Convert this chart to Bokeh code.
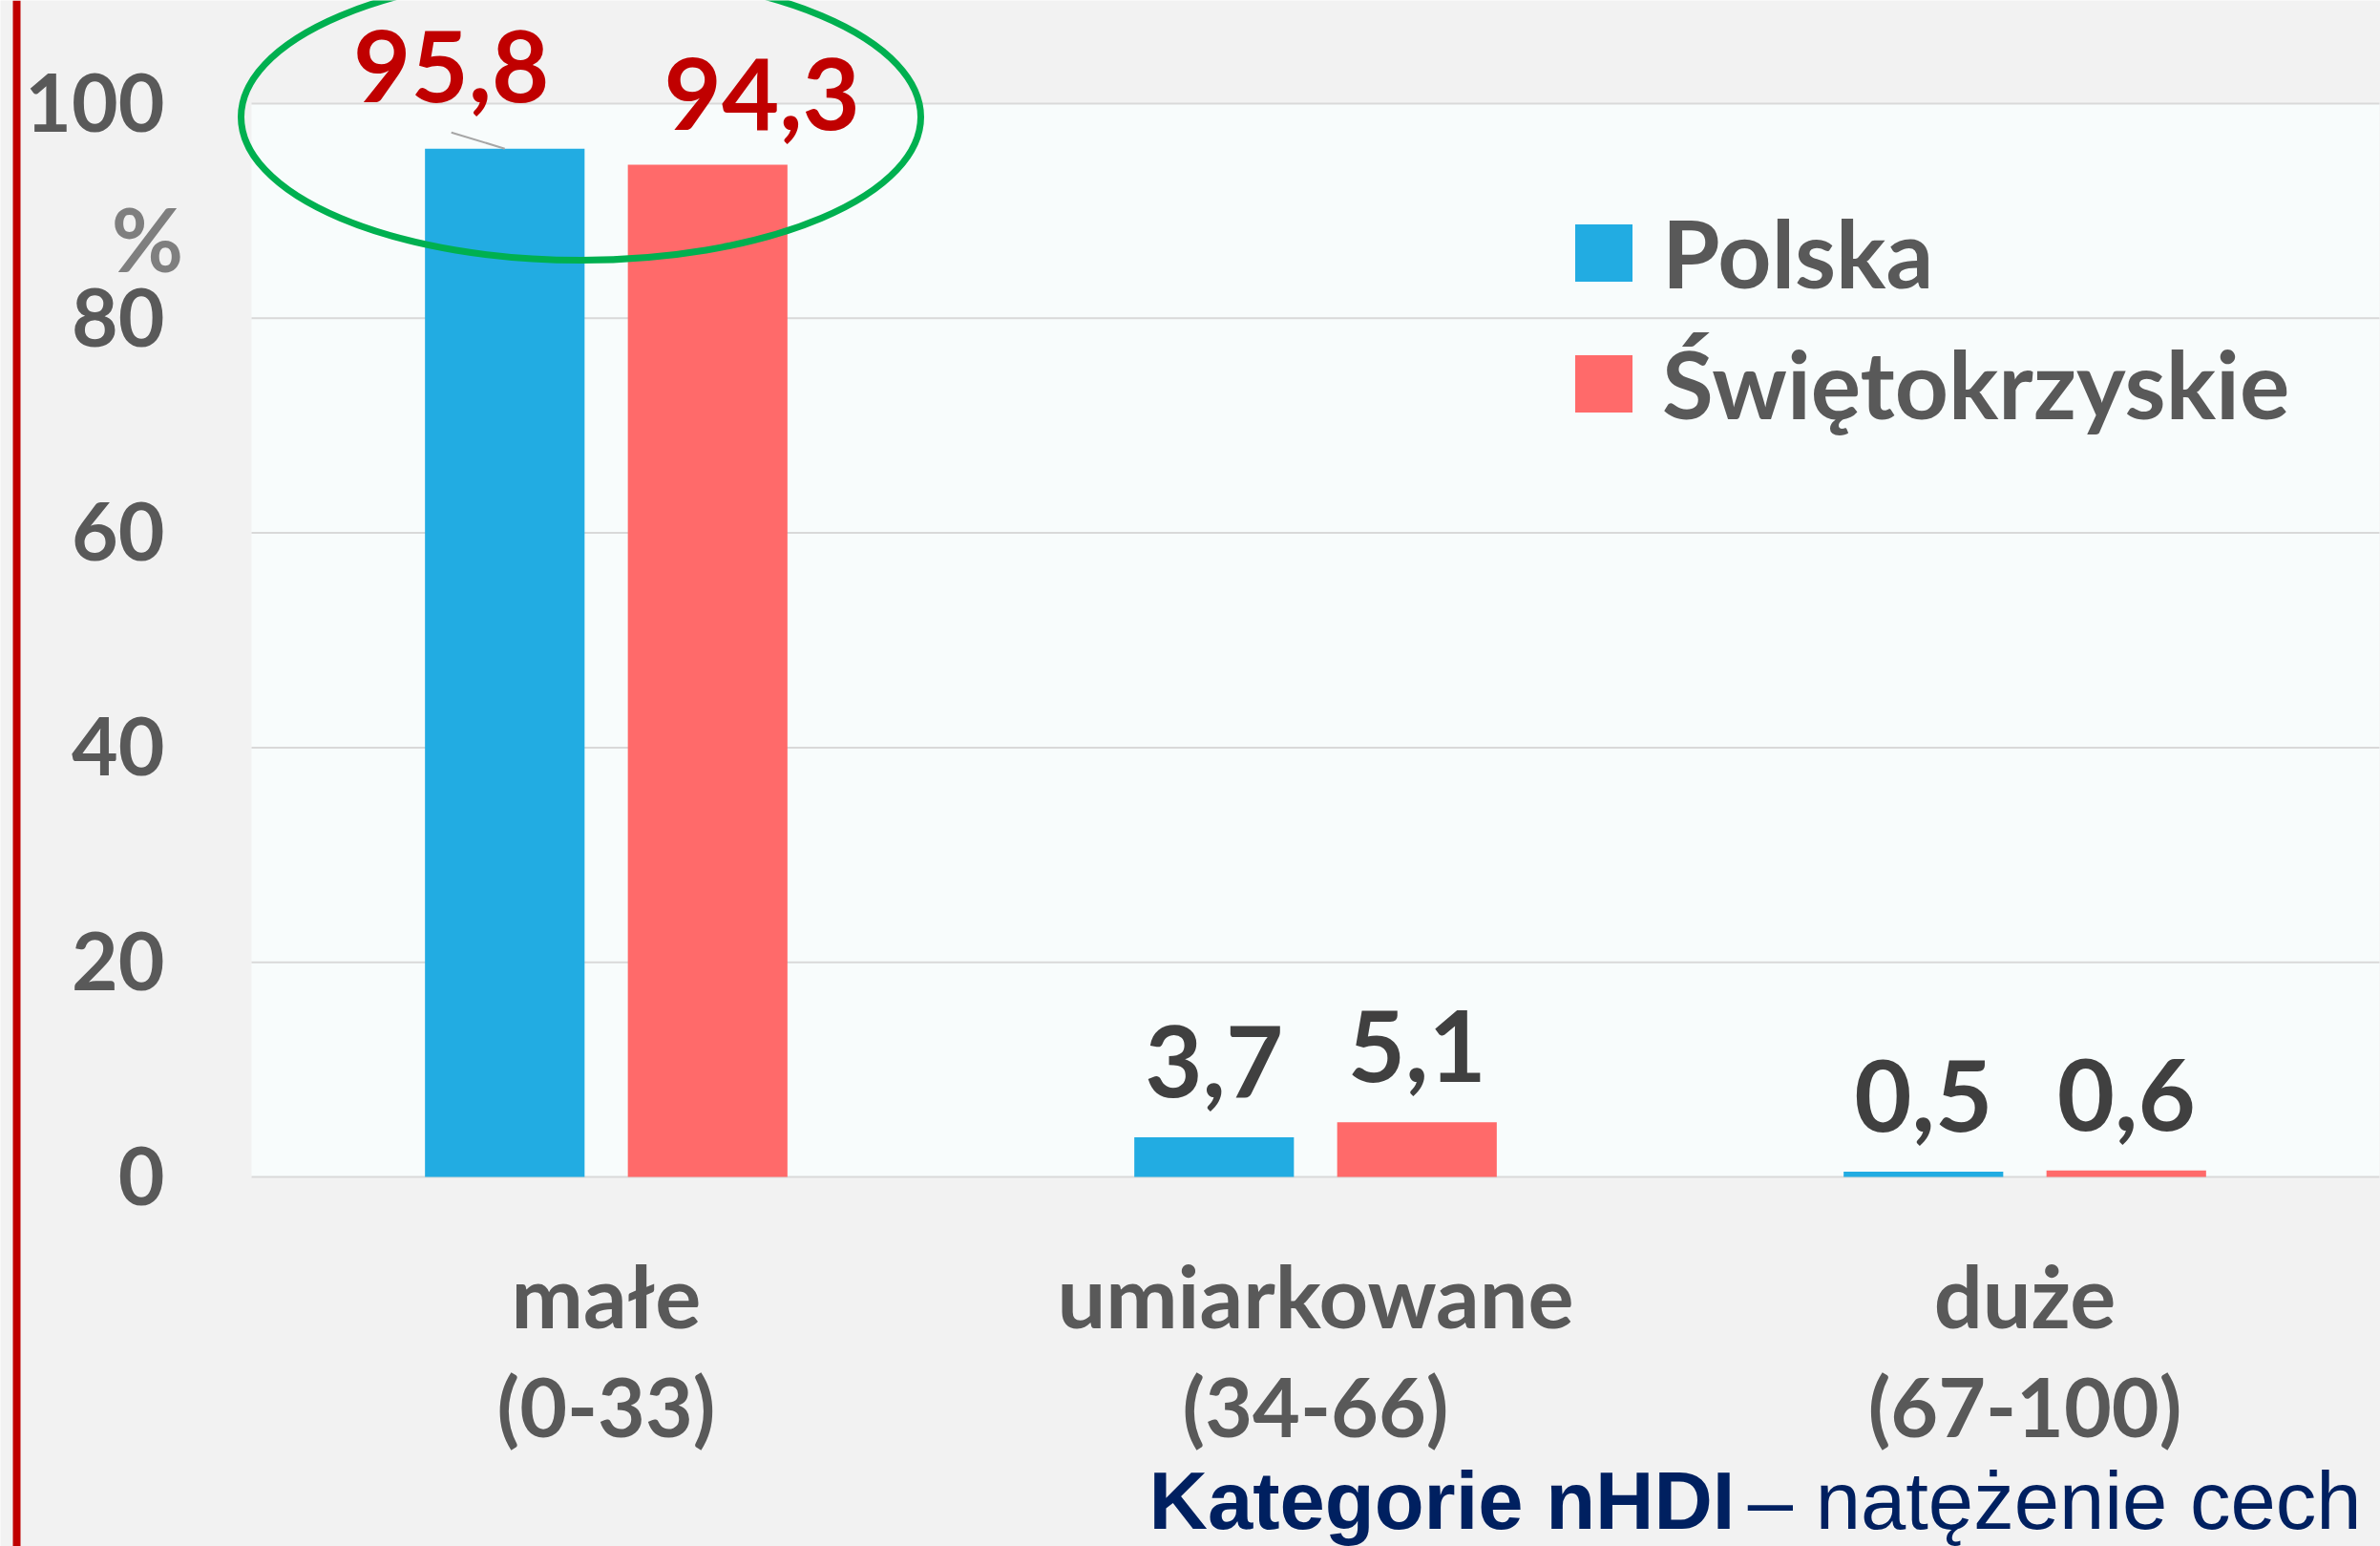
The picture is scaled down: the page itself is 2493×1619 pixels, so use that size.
import numpy as np
from bokeh.plotting import figure
from bokeh.models import Range1d, Legend, LegendItem
from bokeh.embed import file_html
from bokeh.resources import INLINE
from bokeh.core.properties import value

# ---------------- data ----------------
categories = ["małe", "umiarkowane", "duże"]
ranges_txt = ["(0-33)", "(34-66)", "(67-100)"]
series_names = ["Polska", "Świętokrzyskie"]
polska = [95.8, 3.7, 0.5]
swietokrzyskie = [94.3, 5.1, 0.6]
labels_polska = ["95,8", "3,7", "0,5"]
labels_swk = ["94,3", "5,1", "0,6"]
y_ticks = [0, 20, 40, 60, 80, 100]
y_tick_labels = ["0", "20", "40", "60", "80", "100"]
unit_label = "%"
axis_title_bold = "Kategorie nHDI"
axis_title_rest = "– natężenie cech"

# ---------------- geometry (pixels) ----------------
W, H = 2493, 1619
X0, Y0 = 263, 1232          # pixel position of x = 0 and y = 0
PX_X = 743.0                # pixels per category
PX_Y = 11.24                # pixels per percent
K_MID = 0.36                # 'middle' baseline -> alphabetic baseline, in em

def px_x(v):
    return (v - X0) / PX_X

def px_y(v):
    return (Y0 - v) / PX_Y

def base_y(b, size):
    """data y for a text whose alphabetic baseline should sit at pixel row b"""
    return px_y(b - K_MID * size)

def val_px(v):
    return Y0 - v * PX_Y

BLUE = "#22ACE2"
RED = "#FF6A6A"
GREY_TXT = "#595959"
FONT = "Lato"
BG = "#F2F2F2"

p = figure(width=W, height=H,
           x_range=Range1d(px_x(0), px_x(W)), y_range=Range1d(px_y(H), px_y(0)),
           x_axis_location=None, y_axis_location=None,
           output_backend="svg", toolbar_location=None,
           min_border=0, min_border_left=0, min_border_right=0,
           min_border_top=0, min_border_bottom=0)
p.background_fill_color = BG
p.border_fill_color = BG
p.outline_line_color = None
p.grid.visible = False

n = len(categories)
xc = [i + 0.5 for i in range(n)]
off = 0.143
bw = 0.225
xp = [x - off for x in xc]
xs = [x + off for x in xc]

# red vertical rule at the left edge
p.quad(left=[px_x(13)], right=[px_x(21)], bottom=[px_y(H)], top=[px_y(0)],
       fill_color="#C00000", line_color=None)

# plot area background and gridlines
p.quad(left=[0], right=[n], bottom=[0], top=[max(y_ticks)],
       fill_color="#F8FCFC", line_color=None)
p.segment(x0=[0] * len(y_ticks), x1=[n] * len(y_ticks), y0=y_ticks, y1=y_ticks,
          line_color="#D9D9D9", line_width=2)

# bars
rp = p.vbar(x=xp, top=polska, width=bw, fill_color=BLUE, line_color=None)
rs = p.vbar(x=xs, top=swietokrzyskie, width=bw, fill_color=RED, line_color=None)

def txt(x, y, t, color, size, align="center", font=FONT, style="bold"):
    p.text(x=x, y=y, text=t, text_color=color, text_font=value(font),
           text_font_style=style, text_font_size="%dpx" % size,
           text_align=align, text_baseline="middle")

# y tick labels
txt([px_x(172)] * len(y_ticks), [base_y(val_px(t) + 29, 84) for t in y_ticks],
    y_tick_labels, GREY_TXT, 84, align="right")

# unit label
txt([px_x(154)], [base_y(282, 92)], [unit_label], "#7F7F7F", 92)

# category labels (two lines)
txt(xc, [base_y(1388, 90)] * n, categories, GREY_TXT, 90)
txt(xc, [base_y(1502, 86)] * n, ranges_txt, GREY_TXT, 86)

# data labels (offsets in pixels from the bar centre / bar top)
dx_p = [-56, 0, 0]
dy_p = [49, 42, 42]
dx_s = [57, 0, 0]
dy_s = [37, 42, 42]
DL = 104
lxp = [x + d / PX_X for x, d in zip(xp, dx_p)]
lyp = [base_y(val_px(v) - d, DL) for v, d in zip(polska, dy_p)]
lxs = [x + d / PX_X for x, d in zip(xs, dx_s)]
lys = [base_y(val_px(v) - d, DL) for v, d in zip(swietokrzyskie, dy_s)]
# highlighted first group in dark red, the rest in dark grey
txt([lxp[0], lxs[0]], [lyp[0], lys[0]], [labels_polska[0], labels_swk[0]], "#C00000", DL)
txt(lxp[1:] + lxs[1:], lyp[1:] + lys[1:], labels_polska[1:] + labels_swk[1:], "#404040", DL)

# leader line from first bar to its moved label
p.segment(x0=[xp[0]], y0=[polska[0]], x1=[lxp[0]], y1=[polska[0] + 17 / PX_Y],
          line_color="#A6A6A6", line_width=2)

# green ellipse highlighting first group
p.ellipse(x=[px_x(608)], y=[px_y(122)], width=[712 / PX_X], height=[300 / PX_Y],
          fill_color=None, line_color="#00B050", line_width=7)

# axis caption (mixed weight)
txt([px_x(1203)], [base_y(1602, 85)], [axis_title_bold], "#002060", 85,
    align="left", font="Liberation Sans", style="bold")
txt([px_x(2473)], [base_y(1602, 85)], [axis_title_rest], "#002060", 85,
    align="right", font="Liberation Sans", style="normal")

# legend
legend = Legend(items=[LegendItem(label=series_names[0], renderers=[rp]),
                       LegendItem(label=series_names[1], renderers=[rs])],
                location=(1642, H - 460))
legend.glyph_width = 75
legend.glyph_height = 75
legend.label_standoff = 24
legend.spacing = 19
legend.padding = 0
legend.margin = 0
legend.border_line_color = None
legend.background_fill_alpha = 0
legend.label_text_font = FONT
legend.label_text_font_style = "bold"
legend.label_text_font_size = "98px"
legend.label_text_color = GREY_TXT
p.add_layout(legend)

open("out.html", "w").write(file_html(p, INLINE))
